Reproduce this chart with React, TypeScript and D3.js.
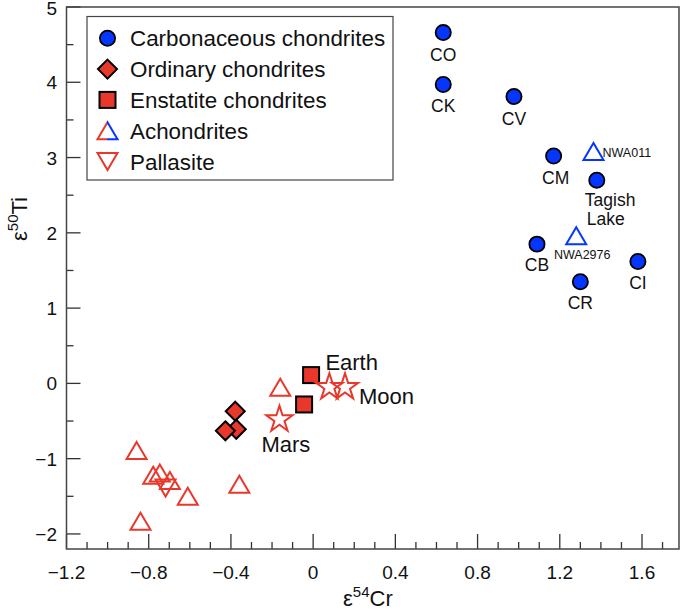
import React from "react";
import * as d3 from "d3";

const xTicks = [-1.2, -0.8, -0.4, 0, 0.4, 0.8, 1.2, 1.6];
const yTicks = [-2, -1, 0, 1, 2, 3, 4, 5];

const carbonaceous = [
  { name: "CO", x: 0.633, y: 4.66 },
  { name: "CK", x: 0.633, y: 3.97 },
  { name: "CV", x: 0.977, y: 3.81 },
  { name: "CM", x: 1.17, y: 3.02 },
  { name: "Tagish Lake", x: 1.38, y: 2.7 },
  { name: "CB", x: 1.089, y: 1.85 },
  { name: "CR", x: 1.3, y: 1.35 },
  { name: "CI", x: 1.58, y: 1.62 },
];
const ordinary = [
  { x: -0.379, y: -0.37 },
  { x: -0.374, y: -0.61 },
  { x: -0.427, y: -0.63 },
];
const enstatite = [
  { x: -0.01, y: 0.11 },
  { x: -0.044, y: -0.28 },
];
const achondritesRed = [
  { x: -0.859, y: -0.89 },
  { x: -0.778, y: -1.22 },
  { x: -0.746, y: -1.19 },
  { x: -0.697, y: -1.29 },
  { x: -0.61, y: -1.5 },
  { x: -0.84, y: -1.83 },
  { x: -0.359, y: -1.34 },
  { x: -0.16, y: -0.05 },
];
const achondritesBlue = [
  { name: "NWA011", x: 1.364, y: 3.08 },
  { name: "NWA2976", x: 1.28, y: 1.96 },
];
const pallasite = [{ x: -0.718, y: -1.39 }];
const planets = [
  { name: "Mars", x: -0.164, y: -0.48 },
  { name: "Earth", x: 0.079, y: -0.05 },
  { name: "Moon", x: 0.155, y: -0.05 },
];
const legendItems = [
  "Carbonaceous chondrites",
  "Ordinary chondrites",
  "Enstatite chondrites",
  "Achondrites",
  "Pallasite",
];

// label placement (pixel offsets from the point)
const cLabelOffsets: Record<string, [number, number][]> = {
  CO: [[0, 28]],
  CK: [[0, 27]],
  CV: [[0, 28]],
  CM: [[2, 28]],
  "Tagish Lake": [[-12, 26], [-10, 45]],
  CB: [[0, 27]],
  CR: [[0, 27]],
  CI: [[0, 28]],
};

const RED = "#e8382c";
const BLUE = "#0536ff";
const FONT = "Liberation Sans, Arial, Helvetica, sans-serif";

const W = 685;
const H = 611;
const L = 66.5, R = 679, T = 7, B = 549;

const x = d3.scaleLinear().domain([-1.2, 1.78]).range([L, R]);
const y = d3.scaleLinear().domain([-2.2, 5]).range([B, T]);

const tri = (w: number, h: number) =>
  `M0,${-h / 2}L${w / 2},${h / 2}L${-w / 2},${h / 2}Z`;
const triDown = (w: number, h: number) =>
  `M0,${h / 2}L${w / 2},${-h / 2}L${-w / 2},${-h / 2}Z`;
const diamond = (r: number) => `M0,${-r}L${r},0L0,${r}L${-r},0Z`;
const starPath = d3.symbol(d3.symbolStar, 215)() as string;

export default function App() {
  const xMinor = d3.range(-1.2, 1.75, 0.1).map((v) => +v.toFixed(2));
  const yMinor = d3.range(-2, 5.01, 0.5).map((v) => +v.toFixed(2));

  const triW = 20, triH = 17;

  return (
    <svg
      width={W}
      height={H}
      style={{ position: "absolute", left: 0, top: 0, background: "#fff" }}
      fontFamily={FONT}
    >
      <defs>
        <linearGradient id="rb" x1="0" x2="1" y1="0" y2="0">
          <stop offset="0.5" stopColor={RED} />
          <stop offset="0.5" stopColor={BLUE} />
        </linearGradient>
      </defs>
      <rect x={0} y={0} width={W} height={H} fill="#fff" />

      {/* ticks */}
      {xMinor.map((v, i) => {
        const major = xTicks.some((t) => Math.abs(t - v) < 1e-6);
        return (
          <line
            key={"xm" + i}
            x1={x(v)}
            x2={x(v)}
            y1={B}
            y2={B - (major ? 15 : 7)}
            stroke="#333"
            strokeWidth={1.3}
          />
        );
      })}
      {yMinor.map((v, i) => {
        const major = yTicks.some((t) => Math.abs(t - v) < 1e-6);
        return (
          <line
            key={"ym" + i}
            x1={L}
            x2={L + (major ? 14 : 7)}
            y1={y(v)}
            y2={y(v)}
            stroke="#333"
            strokeWidth={1.3}
          />
        );
      })}

      {/* tick labels */}
      {xTicks.map((t) => (
        <text
          key={"xt" + t}
          x={x(t)}
          y={579}
          fontSize={19}
          textAnchor="middle"
          fill="#111"
        >
          {t === 0 ? "0" : (t < 0 ? "\u2212" : "") + Math.abs(t).toString()}
        </text>
      ))}
      {yTicks.map((t) => (
        <text
          key={"yt" + t}
          x={57}
          y={y(t) + (t === 5 ? 7.5 : 7)}
          fontSize={19}
          textAnchor="end"
          fill="#111"
        >
          {(t < 0 ? "\u2212" : "") + Math.abs(t).toString()}
        </text>
      ))}

      {/* axis titles */}
      <text x={343} y={606} fontSize={22} fill="#111">
        ε<tspan fontSize={15} dy={-9}>54</tspan>
        <tspan dy={9}>Cr</tspan>
      </text>
      <text
        transform={`translate(27,241) rotate(-90)`}
        fontSize={22}
        fill="#111"
      >
        ε<tspan fontSize={15} dy={-9}>50</tspan>
        <tspan dy={9}>Ti</tspan>
      </text>

      {/* red achondrites */}
      {achondritesRed.map((d, i) => (
        <path
          key={"ar" + i}
          d={tri(triW, triH)}
          transform={`translate(${x(d.x)},${y(d.y)})`}
          fill="none"
          stroke={RED}
          strokeWidth={2}
        />
      ))}
      {pallasite.map((d, i) => (
        <path
          key={"pa" + i}
          d={triDown(triW, triH)}
          transform={`translate(${x(d.x)},${y(d.y)})`}
          fill="none"
          stroke={RED}
          strokeWidth={2}
        />
      ))}
      {/* blue achondrites */}
      {achondritesBlue.map((d, i) => (
        <path
          key={"ab" + i}
          d={tri(triW, triH)}
          transform={`translate(${x(d.x)},${y(d.y)})`}
          fill="none"
          stroke={BLUE}
          strokeWidth={2}
        />
      ))}
      {achondritesBlue.map((d, i) => (
        <text
          key={"abt" + i}
          x={i === 0 ? x(d.x) + 9 : x(d.x) + 6}
          y={i === 0 ? y(d.y) + 5 : y(d.y) + 23}
          fontSize={12.5}
          textAnchor={i === 0 ? "start" : "middle"}
          fill="#111"
        >
          {d.name}
        </text>
      ))}

      {/* ordinary */}
      {ordinary.map((d, i) => (
        <path
          key={"or" + i}
          d={diamond(9.5)}
          transform={`translate(${x(d.x)},${y(d.y)})`}
          fill={RED}
          stroke="#000"
          strokeWidth={2}
          strokeLinejoin="miter"
        />
      ))}
      {/* enstatite */}
      {enstatite.map((d, i) => (
        <rect
          key={"en" + i}
          x={x(d.x) - 8}
          y={y(d.y) - 8}
          width={16}
          height={16}
          fill={RED}
          stroke="#000"
          strokeWidth={2}
        />
      ))}
      {/* planets */}
      {planets.map((d, i) => (
        <path
          key={"pl" + i}
          d={starPath}
          transform={`translate(${x(d.x)},${y(d.y)})`}
          fill="#fff"
          fillOpacity={0}
          stroke={RED}
          strokeWidth={2}
        />
      ))}
      <text x={x(planets[0].x) - 18} y={y(planets[0].y) + 32} fontSize={22} fill="#111">
        Mars
      </text>
      <text x={x(planets[1].x) - 4} y={y(planets[1].y) - 17} fontSize={22} fill="#111">
        Earth
      </text>
      <text x={x(planets[2].x) + 14} y={y(planets[2].y) + 17} fontSize={22} fill="#111">
        Moon
      </text>

      {/* carbonaceous */}
      {carbonaceous.map((d, i) => (
        <circle
          key={"cc" + i}
          cx={x(d.x)}
          cy={y(d.y)}
          r={7.6}
          fill={BLUE}
          stroke="#000"
          strokeWidth={1.8}
        />
      ))}
      {carbonaceous.map((d) => {
        const parts = d.name.split(" ");
        const offs = cLabelOffsets[d.name];
        return parts.map((p, j) => (
          <text
            key={d.name + j}
            x={x(d.x) + offs[j][0]}
            y={y(d.y) + offs[j][1]}
            fontSize={17.5}
            textAnchor={parts.length > 1 ? "start" : "middle"}
            fill="#111"
          >
            {p}
          </text>
        ));
      })}

      {/* legend */}
      <rect x={87} y={16.5} width={306} height={163.5} fill="#fff" stroke="#444" strokeWidth={1.2} />
      {legendItems.map((name, i) => {
        const cy = 38.3 + i * 30.8;
        const cx = 107.5;
        let marker;
        if (i === 0)
          marker = <circle cx={cx} cy={cy} r={7.6} fill={BLUE} stroke="#000" strokeWidth={1.8} />;
        else if (i === 1)
          marker = (
            <path d={diamond(9.5)} transform={`translate(${cx},${cy})`} fill={RED} stroke="#000" strokeWidth={2} />
          );
        else if (i === 2)
          marker = <rect x={cx - 8} y={cy - 8} width={16} height={16} fill={RED} stroke="#000" strokeWidth={2} />;
        else if (i === 3)
          marker = (
            <path d={tri(triW, triH)} transform={`translate(${cx},${cy})`} fill="none" stroke="url(#rb)" strokeWidth={2} />
          );
        else
          marker = (
            <path d={triDown(triW, triH)} transform={`translate(${cx},${cy})`} fill="none" stroke={RED} strokeWidth={2} />
          );
        return (
          <g key={"lg" + i}>
            {marker}
            <text x={130} y={cy + 8} fontSize={22.4} fill="#111">
              {name}
            </text>
          </g>
        );
      })}

      {/* frame */}
      <rect x={L} y={T} width={R - L} height={B - T} fill="none" stroke="#444" strokeWidth={1.5} />
    </svg>
  );
}
